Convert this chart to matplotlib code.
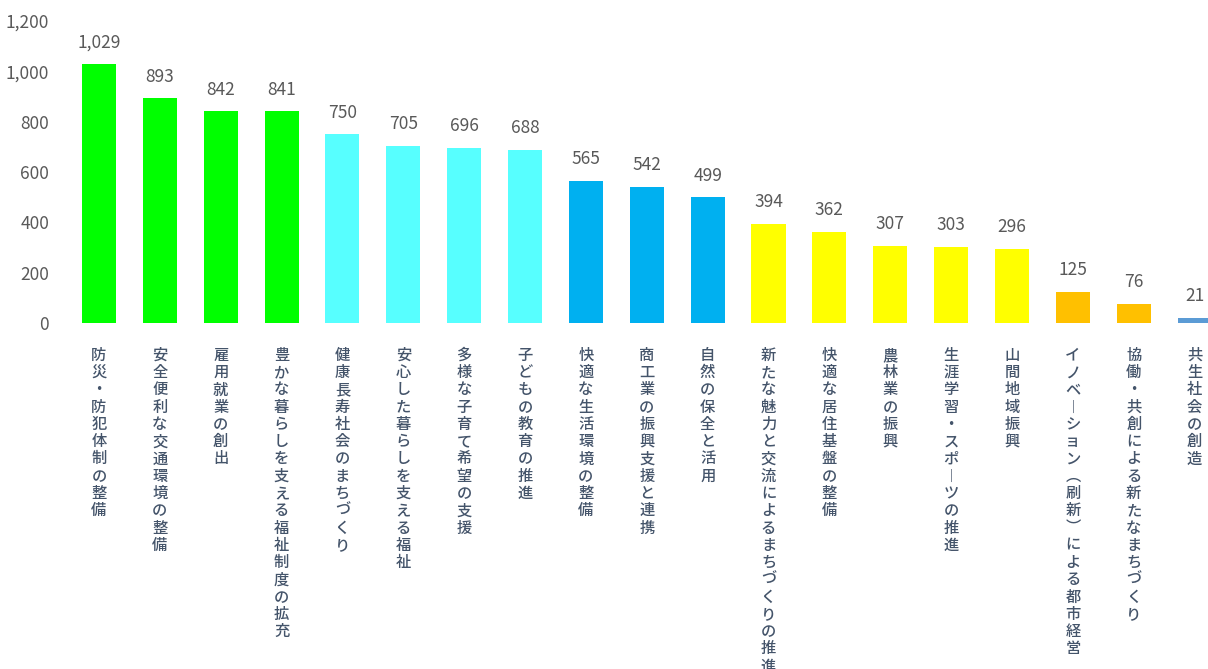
import matplotlib.pyplot as plt
from matplotlib.ticker import FuncFormatter

plt.rcParams['font.family'] = ['Noto Sans CJK JP', 'DejaVu Sans']

categories = [
    '防災・防犯体制の整備', '安全便利な交通環境の整備', '雇用就業の創出',
    '豊かな暮らしを支える福祉制度の拡充', '健康長寿社会のまちづくり', '安心した暮らしを支える福祉',
    '多様な子育て希望の支援', '子どもの教育の推進', '快適な生活環境の整備',
    '商工業の振興支援と連携', '自然の保全と活用', '新たな魅力と交流によるまちづくりの推進',
    '快適な居住基盤の整備', '農林業の振興', '生涯学習・スポーツの推進', '山間地域振興',
    'イノベーション（刷新）による都市経営', '協働・共創による新たなまちづくり', '共生社会の創造',
]
values = [1029, 893, 842, 841, 750, 705, 696, 688, 565, 542, 499, 394, 362, 307, 303, 296, 125, 76, 21]
colors = (['#00FF00'] * 4 + ['#57FFFF'] * 4 + ['#00B0F0'] * 3 + ['#FFFF00'] * 5
          + ['#FFC000'] * 2 + ['#5B9BD5'])

# vertical writing: swap in vertical presentation forms
vmap = {'ー': '︱', '（': '︵', '）': '︶'}


def vertical(s):
    return '\n'.join(vmap.get(c, c) for c in s)


fig = plt.figure(figsize=(12.08, 6.69), dpi=100)
ax = fig.add_axes([68.5 / 1208, 1 - 323 / 669, 1 - 68.5 / 1208, (323 - 21) / 669])

x = range(len(values))
bars = ax.bar(x, values, width=0.56, color=colors)

for i, v in enumerate(values):
    ax.annotate(f'{v:,}', (i, v), xytext=(0, 9), textcoords='offset points',
                ha='center', va='bottom', fontsize=12.5, color='#595959')

ax.set_ylim(0, 1200)
ax.set_xlim(-0.5, 18.22)
ax.set_yticks(range(0, 1201, 200))
ax.yaxis.set_major_formatter(FuncFormatter(lambda v, p: f'{int(v):,}'))
ax.tick_params(axis='y', length=0, pad=14, labelsize=12.5, labelcolor='#595959')
ax.set_xticks([])
for s in ax.spines.values():
    s.set_visible(False)

for i, c in enumerate(categories):
    ax.text(i, -95, vertical(c), ha='center', va='top', fontsize=11,
            color='#44546A', linespacing=1.02, fontweight='medium')

fig.savefig('out.png', dpi=100)
